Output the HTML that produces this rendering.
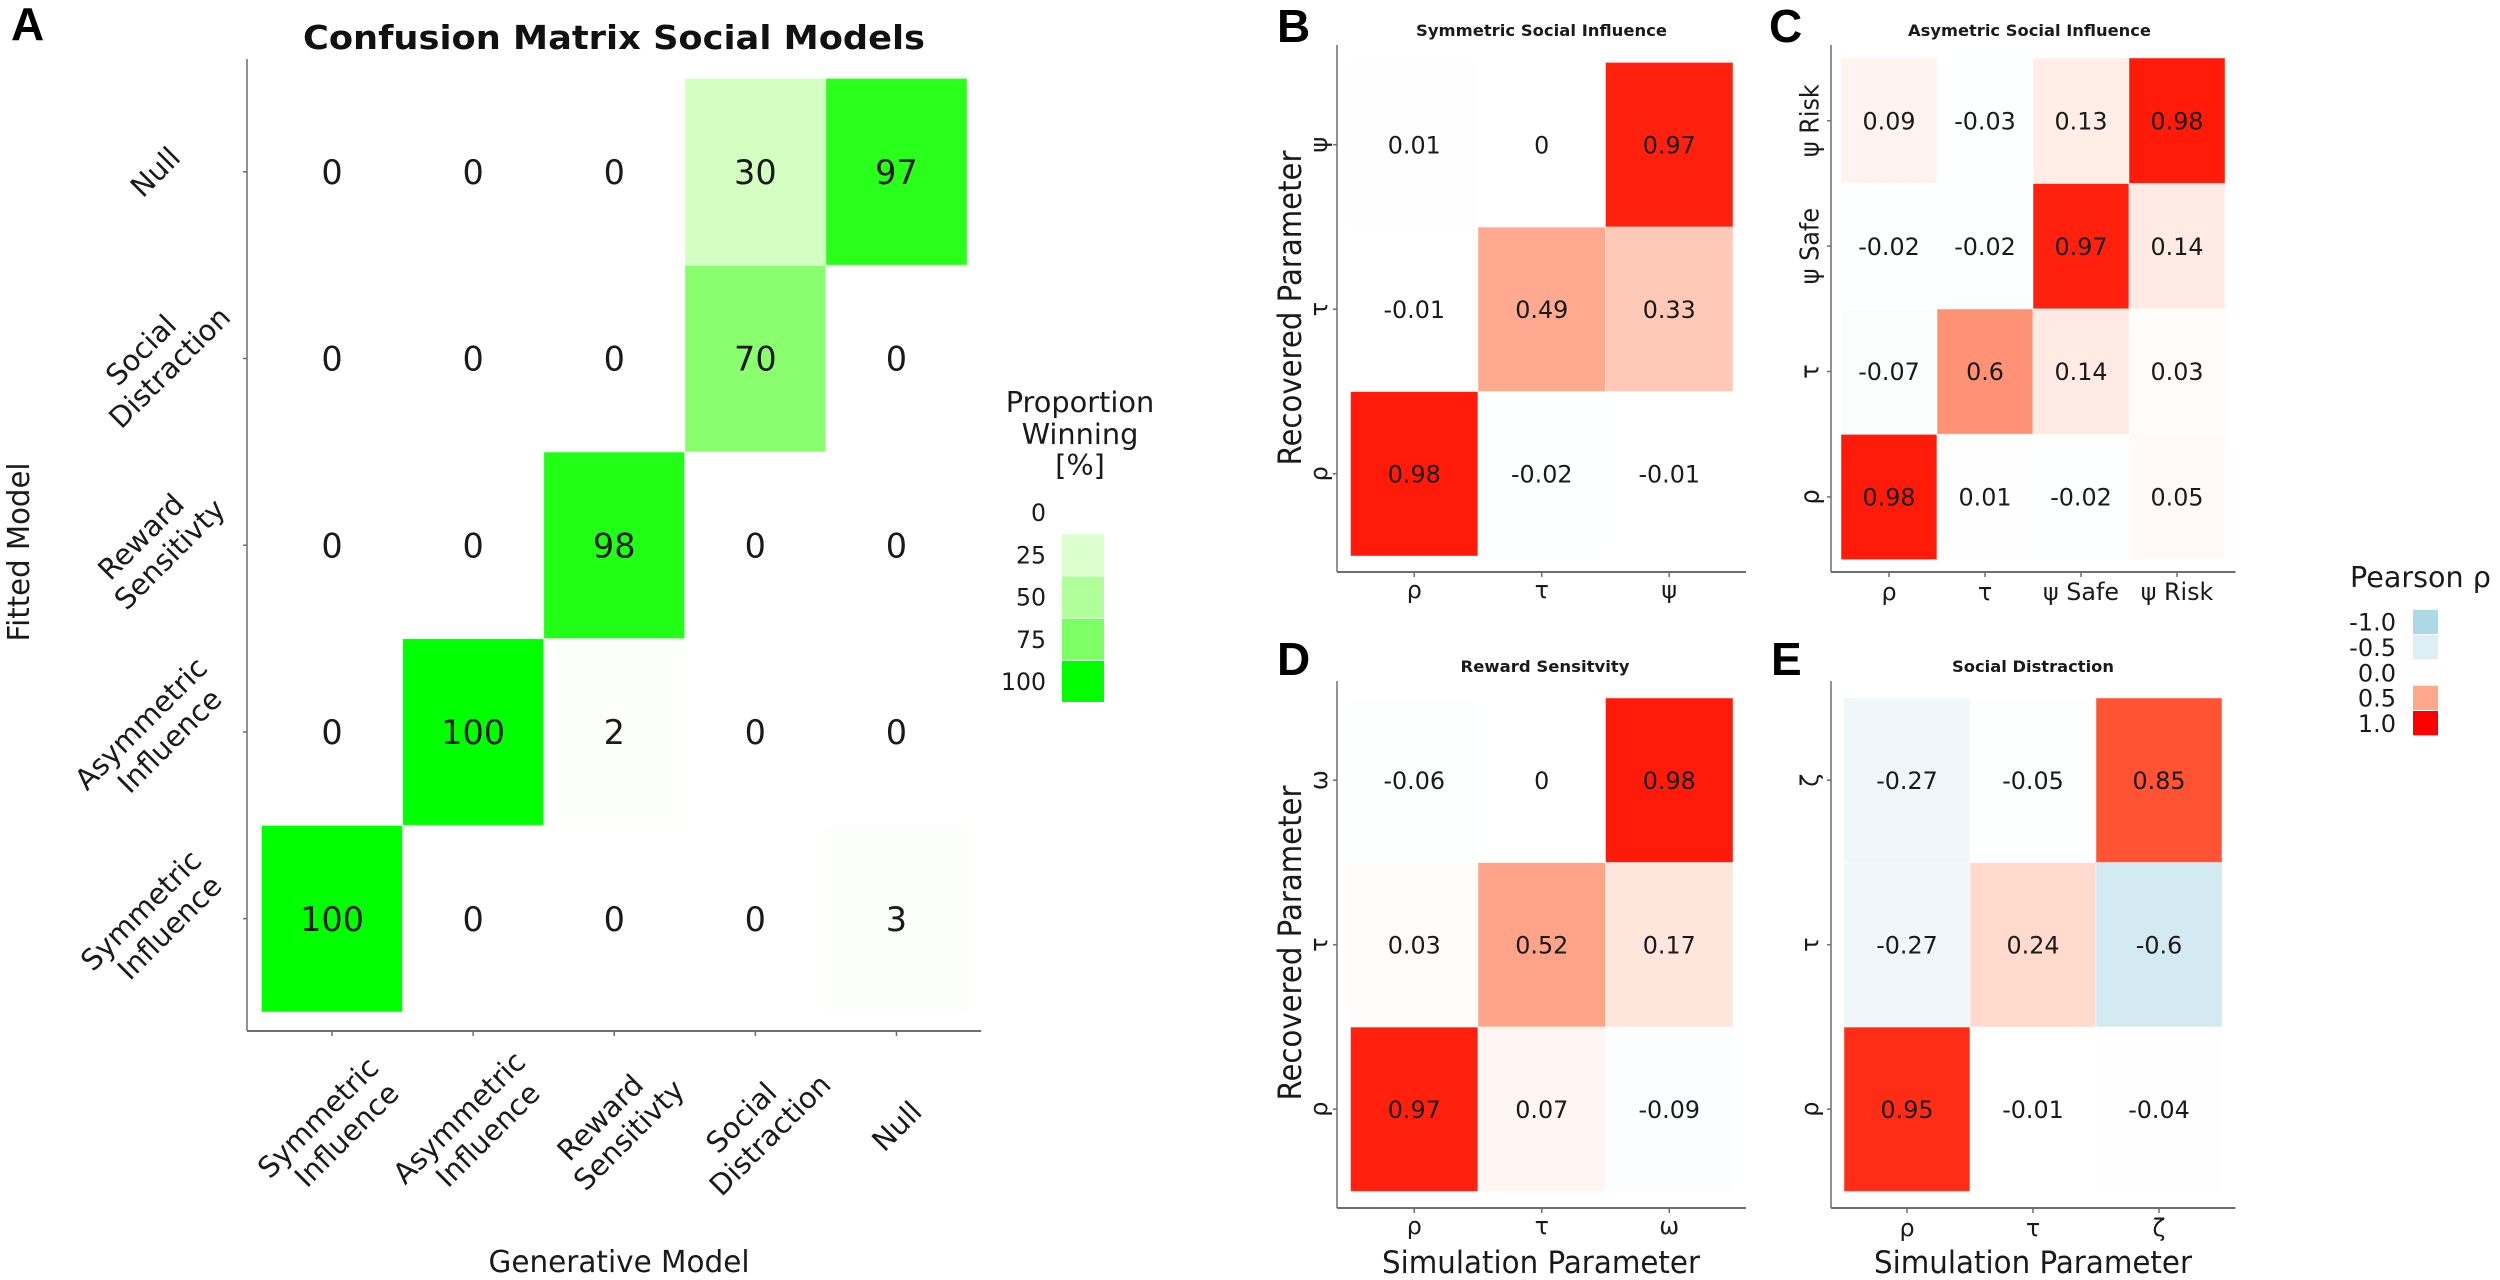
<!DOCTYPE html>
<html lang="en">
<head>
<meta charset="utf-8">
<title>Confusion Matrix and Parameter Recovery</title>
<style>
html,body{margin:0;padding:0;background:#fff;width:2500px;height:1280px;overflow:hidden}
svg{display:block;font-family:"DejaVu Sans","Liberation Sans",sans-serif;fill:#1a1a1a}
text{white-space:pre}
</style>
</head>
<body>
<svg id="figure" xmlns="http://www.w3.org/2000/svg" width="2500" height="1280" viewBox="0 0 2500 1280">
  <rect x="0" y="0" width="2500" height="1280" fill="#ffffff"/>
  <g style="font-family:'Liberation Sans',sans-serif;font-weight:700;font-size:46px" fill="#000">
    <text x="11" y="40">A</text>
    <text x="1277" y="42">B</text>
    <text x="1769" y="42">C</text>
    <text x="1277" y="675">D</text>
    <text x="1771" y="675">E</text>
  </g>
  <text x="614" y="49" text-anchor="middle" font-weight="700" font-size="33" textLength="622" lengthAdjust="spacingAndGlyphs" fill="#111">Confusion Matrix Social Models</text>
  <text x="619" y="1272" text-anchor="middle" font-size="30" textLength="261" lengthAdjust="spacingAndGlyphs">Generative Model</text>
  <text transform="translate(29,552) rotate(-90)" text-anchor="middle" font-size="30" textLength="179" lengthAdjust="spacingAndGlyphs">Fitted Model</text>
  <text transform="translate(1301,308) rotate(-90)" text-anchor="middle" font-size="32" textLength="315" lengthAdjust="spacingAndGlyphs">Recovered Parameter</text>
  <text transform="translate(1301,943) rotate(-90)" text-anchor="middle" font-size="32" textLength="315" lengthAdjust="spacingAndGlyphs">Recovered Parameter</text>
  <text x="1541" y="1273" text-anchor="middle" font-size="30.9" textLength="318" lengthAdjust="spacingAndGlyphs">Simulation Parameter</text>
  <text x="2033" y="1273" text-anchor="middle" font-size="30.9" textLength="318" lengthAdjust="spacingAndGlyphs">Simulation Parameter</text>
  <text x="1541.5" y="36" text-anchor="middle" font-weight="700" font-size="16" textLength="251" lengthAdjust="spacingAndGlyphs">Symmetric Social Influence</text>
  <text x="2029.5" y="36" text-anchor="middle" font-weight="700" font-size="16" textLength="243" lengthAdjust="spacingAndGlyphs">Asymetric Social Influence</text>
  <text x="1545" y="672" text-anchor="middle" font-weight="700" font-size="16" textLength="169" lengthAdjust="spacingAndGlyphs">Reward Sensitvity</text>
  <text x="2033" y="672" text-anchor="middle" font-weight="700" font-size="16" textLength="162" lengthAdjust="spacingAndGlyphs">Social Distraction</text>
  <g font-size="28.8" text-anchor="middle">
    <text x="1080" y="412">Proportion</text>
    <text x="1080" y="444">Winning</text>
    <text x="1080" y="475">[%]</text>
  </g>
  <text x="2350" y="587" font-size="28.6">Pearson ρ</text>
</svg>
<script>
// Panel A: confusion matrix (rows listed bottom to top, columns left to right)
const modelLabels = [["Symmetric","Influence"],["Asymmetric","Influence"],["Reward","Sensitivty"],["Social","Distraction"],["Null"]];
const confusionSymmetricRow = [100,0,0,0,3];
const confusionAsymmetricRow = [0,100,2,0,0];
const confusionRewardRow = [0,0,98,0,0];
const confusionDistractionRow = [0,0,0,70,0];
const confusionNullRow = [0,0,0,30,97];

// Panel B: symmetric social influence
const panelBLabels = ["ρ","τ","ψ"];
const panelBRowRho = [0.98,-0.02,-0.01];
const panelBRowTau = [-0.01,0.49,0.33];
const panelBRowPsi = [0.01,0,0.97];

// Panel C: asymmetric social influence
const panelCLabels = ["ρ","τ","ψ Safe","ψ Risk"];
const panelCRowRho = [0.98,0.01,-0.02,0.05];
const panelCRowTau = [-0.07,0.6,0.14,0.03];
const panelCRowSafe = [-0.02,-0.02,0.97,0.14];
const panelCRowRisk = [0.09,-0.03,0.13,0.98];

// Panel D: reward sensitivity
const panelDLabels = ["ρ","τ","ω"];
const panelDRowRho = [0.97,0.07,-0.09];
const panelDRowTau = [0.03,0.52,0.17];
const panelDRowOmega = [-0.06,0,0.98];

// Panel E: social distraction
const panelELabels = ["ρ","τ","ζ"];
const panelERowRho = [0.95,-0.01,-0.04];
const panelERowTau = [-0.27,0.24,-0.6];
const panelERowZeta = [-0.27,-0.05,0.85];

// Legends
const proportionLegendValues = [0,25,50,75,100];
const pearsonLegendValues = [-1,-0.5,0,0.5,1];

const SVG_NS = "http://www.w3.org/2000/svg";
const figure = document.getElementById("figure");

function make(tag, attrs, parent, txt) {
  const el = document.createElementNS(SVG_NS, tag);
  for (const k in attrs) el.setAttribute(k, attrs[k]);
  if (txt !== undefined) el.textContent = txt;
  (parent || figure).appendChild(el);
  return el;
}

// Lab colour interpolation (white to an end colour)
function toLinear(c){c/=255;return c<=0.04045?c/12.92:Math.pow((c+0.055)/1.055,2.4);}
function toGamma(c){c=Math.max(0,Math.min(1,c));return Math.round(255*(c<=0.0031308?12.92*c:1.055*Math.pow(c,1/2.4)-0.055));}
function rgbToLab(rgb){
  const r=toLinear(rgb[0]),g=toLinear(rgb[1]),b=toLinear(rgb[2]);
  const f=t=>t>0.008856?Math.cbrt(t):7.787*t+16/116;
  const x=f((0.4124*r+0.3576*g+0.1805*b)/0.95047),y=f(0.2126*r+0.7152*g+0.0722*b),z=f((0.0193*r+0.1192*g+0.9505*b)/1.08883);
  return [116*y-16,500*(x-y),200*(y-z)];
}
function labToRgb(lab){
  const y=(lab[0]+16)/116,x=lab[1]/500+y,z=y-lab[2]/200;
  const f=t=>t*t*t>0.008856?t*t*t:(t-16/116)/7.787;
  const X=0.95047*f(x),Y=f(y),Z=1.08883*f(z);
  return [toGamma(3.2406*X-1.5372*Y-0.4986*Z),toGamma(-0.9689*X+1.8758*Y+0.0415*Z),toGamma(0.0557*X-0.2040*Y+1.0570*Z)];
}
function ramp(endRgb,t){
  const w=rgbToLab([255,255,255]),e=rgbToLab(endRgb);
  const c=labToRgb([w[0]+(e[0]-w[0])*t,w[1]+(e[1]-w[1])*t,w[2]+(e[2]-w[2])*t]);
  return "rgb("+c.join(",")+")";
}
const greenScale = v => ramp([0,255,0], Math.max(0,Math.min(1,v/100)));
const pearsonScale = v => v>=0 ? ramp([255,0,0],Math.pow(Math.min(1,v),1.15)) : ramp([173,216,230],Math.pow(Math.min(1,-v),1.25));

function drawHeatmap(cfg) {
  const g = make("g", {});
  
  
  const nCols = cfg.rows[0].length, nRows = cfg.rows.length;
  const colW = (cfg.cellRight-cfg.cellLeft)/nCols;
  const rowH = (cfg.cellBottom-cfg.cellTop)/nRows;
  const xCenter = i => cfg.cellLeft + colW*(i+0.5);
  const yCenter = i => cfg.cellBottom - rowH*(i+0.5);

  cfg.rows.forEach((row,r)=>{
    row.forEach((v,c)=>{
      const cell = make("rect",{x:xCenter(c)-colW/2,y:yCenter(r)-rowH/2,width:colW,height:rowH,fill:cfg.scale(v),stroke:"#fff","stroke-width":1,"stroke-opacity":0.45},g);
      
      
    });
  });
  cfg.rows.forEach((row,r)=>{
    row.forEach((v,c)=>{
      const t = make("text",{x:xCenter(c),y:yCenter(r),dy:"0.365em","text-anchor":"middle","font-size":cfg.valueFont},g,String(v));
      
      
    });
  });

  const axisColor = "#6e6e6e";
  const yAxis = make("line",{x1:cfg.axisX,x2:cfg.axisX,y1:cfg.axisTop,y2:cfg.axisY,stroke:axisColor,"stroke-width":1.5},g);
  
  
  const xAxis = make("line",{x1:cfg.axisX,x2:cfg.axisRight,y1:cfg.axisY,y2:cfg.axisY,stroke:axisColor,"stroke-width":2},g);
  
  

  for (let c=0;c<nCols;c++){
    const tick = make("line",{x1:xCenter(c),x2:xCenter(c),y1:cfg.axisY,y2:cfg.axisY+5,stroke:axisColor,"stroke-width":1.5},g);
    
    
  }
  for (let r=0;r<nRows;r++){
    const tick = make("line",{x1:cfg.axisX-4,x2:cfg.axisX,y1:yCenter(r),y2:yCenter(r),stroke:axisColor,"stroke-width":1.5},g);
    
    
  }
  cfg.drawLabels(g,xCenter,yCenter);
}

function simpleLabels(labels,xLabelY,yLabelX,yFont,yAlong){
  return function(g,xCenter,yCenter){
    labels.forEach((lab,i)=>{
      const xl = make("text",{x:xCenter(i),y:xLabelY,dy:"0.33em","text-anchor":"middle","font-size":23.8},g,lab);
      
      
      const yl = make("text",{transform:"translate("+yLabelX+","+yCenter(i)+") rotate(-90) scale("+yAlong+",1)",dy:"0.33em","text-anchor":"middle","font-size":yFont},g,lab);
      
      
    });
  };
}

function rotatedBlock(g,cx,cy,lines,name){
  const b = make("g",{transform:"translate("+cx+","+cy+") rotate(-45)","font-size":28.8,"text-anchor":"middle"},g);
  
  
  lines.forEach((ln,i)=>{
    const k = i-(lines.length-1)/2;
    const t = make("text",{x:k*8,y:k*32.5,dy:"0.36em"},b,ln);
    
    
  });
}

drawHeatmap({
  name:"confusion-matrix",scale:greenScale,valueFont:33.5,
  rows:[confusionSymmetricRow,confusionAsymmetricRow,confusionRewardRow,confusionDistractionRow,confusionNullRow],
  cellLeft:261.5,cellRight:967,cellTop:78.4,cellBottom:1012,
  axisX:247,axisTop:59,axisY:1031,axisRight:981,
  drawLabels:function(g,xCenter,yCenter){
    modelLabels.forEach((lab,i)=>{
      rotatedBlock(g,xCenter(i),1126,lab,'x-tick-label');
      rotatedBlock(g,155,yCenter(i),lab,'y-tick-label');
    });
  }
});
drawHeatmap({
  name:"symmetric-social-influence-heatmap",scale:pearsonScale,valueFont:23.8,
  rows:[panelBRowRho,panelBRowTau,panelBRowPsi],
  cellLeft:1350.5,cellRight:1733,cellTop:62.4,cellBottom:556,
  axisX:1337,axisTop:45,axisY:572,axisRight:1746,
  drawLabels:simpleLabels(panelBLabels,590,1319,24,1)
});
drawHeatmap({
  name:"asymmetric-social-influence-heatmap",scale:pearsonScale,valueFont:23.8,
  rows:[panelCRowRho,panelCRowTau,panelCRowSafe,panelCRowRisk],
  cellLeft:1841,cellRight:2225,cellTop:58,cellBottom:559.6,
  axisX:1831,axisTop:45,axisY:572,axisRight:2235.5,
  drawLabels:simpleLabels(panelCLabels,592,1810,26,0.92)
});
drawHeatmap({
  name:"reward-sensitivity-heatmap",scale:pearsonScale,valueFont:23.8,
  rows:[panelDRowRho,panelDRowTau,panelDRowOmega],
  cellLeft:1350.5,cellRight:1733,cellTop:698,cellBottom:1191.4,
  axisX:1337,axisTop:681,axisY:1208,axisRight:1746,
  drawLabels:simpleLabels(panelDLabels,1226,1319,24,1)
});
drawHeatmap({
  name:"social-distraction-heatmap",scale:pearsonScale,valueFont:23.8,
  rows:[panelERowRho,panelERowTau,panelERowZeta],
  cellLeft:1844,cellRight:2222,cellTop:698,cellBottom:1191.4,
  axisX:1831,axisTop:681,axisY:1208,axisRight:2235.5,
  drawLabels:simpleLabels(panelELabels,1228,1810,24,1)
});

function drawLegend(name,values,scale,swatchX,swatchW,top,step,labelX,fontSize,fmt){
  const g = make("g",{});
  
  
  values.forEach((v,i)=>{
    const y = top+step*i;
    const sw = make("rect",{x:swatchX,y:y+0.5,width:swatchW,height:step-1,fill:scale(v)},g);
    
    
    const t = make("text",{x:labelX,y:y+step/2,dy:"0.365em","text-anchor":"end","font-size":fontSize},g,fmt(v));
    
    
  });
}
drawLegend("proportion-legend",proportionLegendValues,greenScale,1062,42,491.5,42.2,1046,23.6,v=>String(v));
drawLegend("pearson-legend",pearsonLegendValues,pearsonScale,2413,25,609.3,25.3,2396,24,v=>v.toFixed(1));
</script>
</body>
</html>
